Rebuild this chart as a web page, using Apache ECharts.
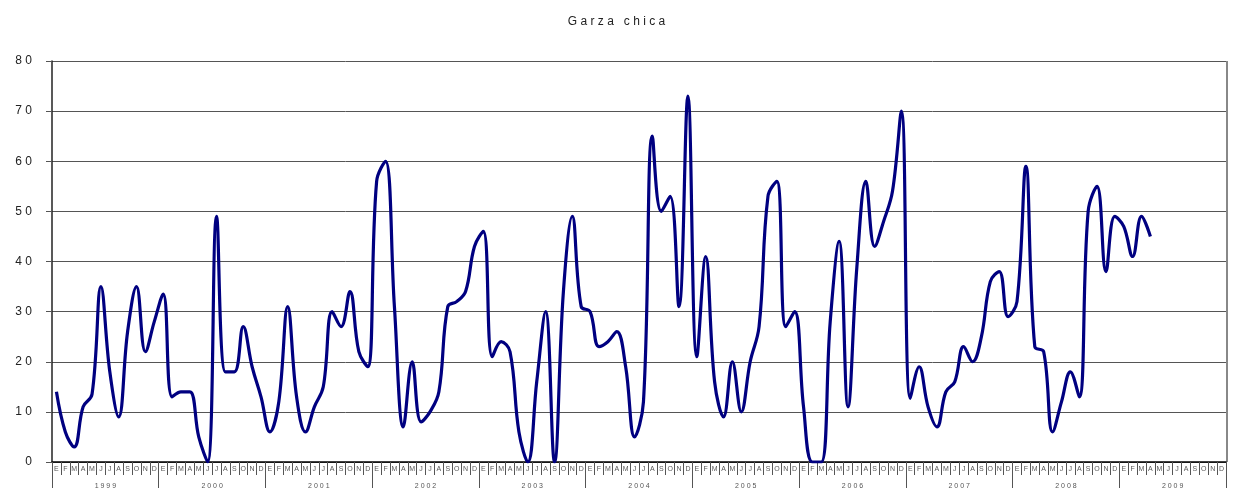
<!DOCTYPE html>
<html>
<head>
<meta charset="utf-8">
<script src="https://cdn.jsdelivr.net/npm/echarts@6/dist/echarts.min.js"></script>
<style>
  html, body { margin: 0; padding: 0; background: #fff; }
  #chart { width: 1233px; height: 488px; }
</style>
</head>
<body>
<div id="chart"></div>
<script>
var years = ['1999', '2000', '2001', '2002', '2003', '2004', '2005', '2006', '2007', '2008', '2009'];
var monthLetters = ['E', 'F', 'M', 'A', 'M', 'J', 'J', 'A', 'S', 'O', 'N', 'D'];

var v1999 = [14, 6, 3, 11, 13.5, 35, 18, 9, 26, 35, 22, 28];
var v2000 = [33.5, 13, 14, 14, 5, 0, 49, 18, 18, 27, 19, 13];
var v2001 = [6, 12, 31, 13, 6, 11, 15, 30, 27, 34, 22, 19];
var v2002 = [56, 60, 31, 7, 20, 8, 10, 14, 31, 32, 34, 43];
var v2003 = [46, 21, 24, 22, 6, 0, 16, 30, 0, 34, 49, 31];
var v2004 = [30, 23, 24, 26, 19, 5, 12, 65, 50, 53, 31, 73];
var v2005 = [21, 41, 16, 9, 20, 10, 20, 27, 53, 56, 27, 30];
var v2006 = [11, 0, 0, 28, 44, 11, 39, 56, 43, 48, 54, 70];
var v2007 = [12.7, 19, 11, 7, 14, 16, 23, 20, 25, 36, 38, 29];
var v2008 = [32, 59, 23, 22, 6, 12, 18, 13, 50, 55, 38, 49];
var v2009 = [47, 41, 49, 45];

var yTicks = { min: 0, max: 80, interval: 10 };

// one category per month, 11 years
var months = [];
years.forEach(function () { months = months.concat(monthLetters); });
var values = [].concat(v1999, v2000, v2001, v2002, v2003, v2004, v2005, v2006, v2007, v2008, v2009);

var spaced = function (s) { return String(s).split('').join(' '); };

var chartDom = document.getElementById('chart');
var myChart = echarts.init(chartDom);
var option;

option = {
    animation: false,
    title: {
        text: spaced('Garza') + '   ' + spaced('chica'),
        left: 'center',
        top: 11,
        textStyle: { fontFamily: 'Liberation Sans', fontSize: 12, fontWeight: 'normal', color: '#222' }
    },
    grid: { left: 52, right: 7, top: 61, bottom: 26, outerBoundsMode: 'none' },
    xAxis: [
        {
            type: 'category',
            data: months,
            boundaryGap: true,
            axisLine: { lineStyle: { color: '#000', width: 1.5 } },
            axisTick: { show: true, interval: 0, length: 13, lineStyle: { color: '#555' } },
            axisLabel: { interval: 0, fontSize: 7, color: '#555', margin: 4, fontFamily: 'Liberation Sans' }
        },
        {
            type: 'category',
            data: years,
            position: 'bottom',
            boundaryGap: true,
            axisLine: { show: false },
            axisTick: { show: true, interval: 0, length: 28, lineStyle: { color: '#555' } },
            axisLabel: {
                interval: 0, fontSize: 7, color: '#555', margin: 21, fontFamily: 'Liberation Sans',
                formatter: spaced
            }
        }
    ],
    yAxis: {
        type: 'value',
        min: yTicks.min,
        max: yTicks.max,
        interval: yTicks.interval,
        axisLine: { show: true, lineStyle: { color: '#222', width: 1.5 } },
        axisTick: { show: true, length: 6, lineStyle: { color: '#555' } },
        axisLabel: { fontSize: 12, color: '#222', margin: 20, fontFamily: 'Liberation Sans', formatter: spaced },
        splitLine: { lineStyle: { color: '#555', width: 1 } }
    },
    graphic: [
        {
            type: 'line',
            shape: { x1: 1227, y1: 61, x2: 1227, y2: 462 },
            style: { stroke: '#888', lineWidth: 2 }
        }
    ],
    series: [
        {
            name: 'Garza chica',
            type: 'line',
            xAxisIndex: 0,
            data: values,
            smooth: 0.4,
            showSymbol: false,
            lineStyle: { color: '#000080', width: 3.2 },
            itemStyle: { color: '#000080' }
        }
    ]
};
option && myChart.setOption(option);
</script>
</body>
</html>
